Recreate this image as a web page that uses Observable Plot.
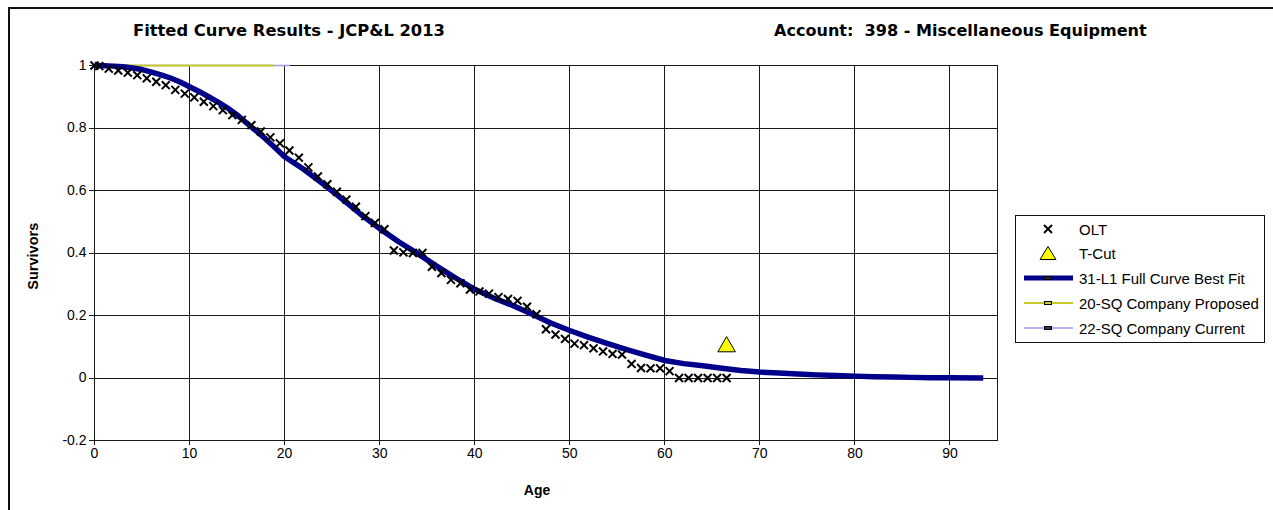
<!DOCTYPE html>
<html><head><meta charset="utf-8">
<script src="https://cdn.jsdelivr.net/npm/d3@7"></script>
<script src="https://cdn.jsdelivr.net/npm/@observablehq/plot@0.6"></script>
<style>
html,body{margin:0;padding:0;background:#fff;}
#wrap{position:relative;width:1273px;height:510px;overflow:hidden;background:#fff;}
#border{position:absolute;left:8px;top:7px;width:1400px;height:600px;border-left:2px solid #111;border-top:2px solid #111;box-sizing:border-box;}
#chart{position:absolute;left:0;top:0;}
.t{position:absolute;white-space:pre;line-height:1;color:#000;}
#legend{position:absolute;left:1015px;top:215px;width:250px;height:128px;border:1px solid #111;box-sizing:border-box;background:#fff;}
g[aria-label="x-grid"], g[aria-label="y-grid"], g[aria-label="frame"], g[aria-label="x-axis tick"], g[aria-label="y-axis tick"]{shape-rendering:crispEdges;}
</style>
</head><body>
<div id="wrap"><div id="border"></div><div id="chart"></div><div id="legend"></div></div>
<script>
// ---- data ----
const titleLeft = "Fitted Curve Results - JCP&L 2013";
const titleRight = "Account:  398 - Miscellaneous Equipment";
const xLabel = "Age";
const yLabel = "Survivors";
const xTicks = [0,10,20,30,40,50,60,70,80,90];
const yTicks = [-0.2,0,0.2,0.4,0.6,0.8,1];

const oltAge = [0,0.5,1.5,2.5,3.5,4.5,5.5,6.5,7.5,8.5,9.5,10.5,11.5,12.5,13.5,14.5,15.5,16.5,17.5,18.5,19.5,20.5,21.5,22.5,23.5,24.5,25.5,26.5,27.5,28.5,29.5,30.5,31.5,32.5,33.5,34.5,35.5,36.5,37.5,38.5,39.5,40.5,41.5,42.5,43.5,44.5,45.5,46.5,47.5,48.5,49.5,50.5,51.5,52.5,53.5,54.5,55.5,56.5,57.5,58.5,59.5,60.5,61.5,62.5,63.5,64.5,65.5,66.5];
const oltSurv = [1.0,0.998,0.99,0.984,0.977,0.969,0.959,0.948,0.937,0.922,0.91,0.898,0.884,0.87,0.857,0.841,0.826,0.809,0.789,0.77,0.751,0.728,0.705,0.674,0.645,0.62,0.596,0.571,0.548,0.518,0.496,0.476,0.408,0.402,0.4,0.4,0.356,0.336,0.314,0.303,0.283,0.277,0.27,0.259,0.253,0.247,0.228,0.204,0.156,0.139,0.125,0.11,0.105,0.095,0.085,0.077,0.075,0.045,0.032,0.031,0.031,0.022,0,0,0,0,0,0];

const fitAge = [0,1,2,3,4,5,6,7,8,9,10,11,12,13,14,15,16,17,18,19,20,22,24,26,28,30,32,34,36,38,40,42,44,46,48,50,52,54,56,58,60,62,64,66,68,70,72,74,76,78,80,82,84,86,88,90,93.5];
const fitSurv = [1.0,0.999,0.998,0.996,0.992,0.987,0.979,0.97,0.96,0.947,0.932,0.917,0.9,0.883,0.864,0.842,0.816,0.791,0.765,0.737,0.708,0.668,0.622,0.574,0.524,0.478,0.436,0.398,0.358,0.32,0.284,0.256,0.232,0.205,0.176,0.152,0.13,0.11,0.091,0.073,0.056,0.046,0.039,0.031,0.024,0.019,0.016,0.013,0.01,0.008,0.006,0.004,0.003,0.002,0.001,0.001,0.0];

const tcutAge = [66.5];
const tcutSurv = [0.1];

const propAge = [0,18.8];   // 20-SQ Company Proposed (visible part)
const propSurv = [1,1];
const currAge = [0,20.5];   // 22-SQ Company Current (visible part)
const currSurv = [1,1];

const legendLabels = ["OLT","T-Cut","31-L1 Full Curve Best Fit","20-SQ Company Proposed","22-SQ Company Current"];

// ---- build tables ----
const olt = oltAge.map((a,i)=>({age:a, s:oltSurv[i]}));
const fit = fitAge.map((a,i)=>({age:a, s:fitSurv[i]}));
const tcut = tcutAge.map((a,i)=>({age:a, s:tcutSurv[i]}));
const prop = propAge.map((a,i)=>({age:a, s:propSurv[i]}));
const curr = currAge.map((a,i)=>({age:a, s:currSurv[i]}));

const NAVY = "#00008b", YEL = "#c8c828", LAV = "#9a9af0", GRID = "#1a1a1a";

const chart = Plot.plot({
  width:1273, height:510,
  marginLeft:94, marginRight:276, marginTop:65, marginBottom:70,
  x:{domain:[0,95]},
  y:{domain:[-0.2,1]},
  style:{fontFamily:"'Liberation Sans', Arial, sans-serif", fontSize:"14px", color:"#000", background:"transparent", overflow:"visible"},
  marks:[
    Plot.gridX(xTicks,{stroke:GRID, strokeOpacity:1, strokeWidth:1}),
    Plot.gridY(yTicks,{stroke:GRID, strokeOpacity:1, strokeWidth:1}),
    Plot.frame({stroke:GRID, strokeWidth:1}),
    Plot.axisX(xTicks,{tickSize:5, tickPadding:3, label:null, tickFormat:d=>String(d), stroke:GRID}),
    Plot.axisY(yTicks,{tickSize:5, tickPadding:3, label:null, tickFormat:d=>String(d), stroke:GRID}),
    Plot.line(curr,{x:"age", y:"s", stroke:LAV, strokeWidth:1.5}),
    Plot.line(prop,{x:"age", y:"s", stroke:YEL, strokeWidth:2}),
    Plot.line(fit,{x:"age", y:"s", stroke:NAVY, strokeWidth:5.5, strokeLinejoin:"round", strokeLinecap:"butt"}),
    Plot.dot(olt,{x:"age", y:"s", symbol:"times", r:3.7, stroke:"#000", strokeWidth:2}),
    Plot.dot(tcut,{x:"age", y:"s", symbol:"triangle", r:6.5, fill:"#ffff00", stroke:"#000", strokeWidth:1})
  ]
});
document.getElementById("chart").appendChild(chart);

// ---- text helpers ----
const wrap = document.getElementById("wrap");
function addText(txt, opts){
  const el = document.createElement("div");
  el.className = "t";
  el.textContent = txt;
  el.style.fontFamily = opts.family;
  el.style.fontWeight = opts.weight || "normal";
  el.style.fontSize = opts.size + "px";
  (opts.parent || wrap).appendChild(el);
  if (opts.width){
    const w = el.getBoundingClientRect().width;
    el.style.fontSize = (opts.size * opts.width / w) + "px";
  }
  const r = el.getBoundingClientRect();
  if (opts.rotate){
    el.style.transformOrigin = "center center";
    el.style.left = (opts.cx - r.width/2) + "px";
    el.style.top = (opts.cy - r.height/2) + "px";
    el.style.transform = "rotate(-90deg)";
  } else {
    const left = opts.left !== undefined ? opts.left : opts.cx - r.width/2;
    el.style.left = left + "px";
    el.style.top = (opts.cy - r.height/2) + "px";
  }
  return el;
}
const TITLEF = "'DejaVu Sans', Verdana, sans-serif";
const ARIAL = "'Liberation Sans', Arial, sans-serif";
addText(titleLeft,{family:TITLEF, weight:"bold", size:14, width:312, left:133, cy:31});
addText(titleRight,{family:TITLEF, weight:"bold", size:14, width:373, left:774, cy:31});
addText(xLabel,{family:ARIAL, weight:"bold", size:14, cx:537, cy:490});
addText(yLabel,{family:ARIAL, weight:"bold", size:14.5, cx:33, cy:256, rotate:true});

// ---- legend ----
const legend = document.getElementById("legend");
const rowsY = [13, 37.5, 62, 87, 112];
const symX = 32;
const svgNS = "http://www.w3.org/2000/svg";
const lsvg = document.createElementNS(svgNS,"svg");
lsvg.setAttribute("width","70"); lsvg.setAttribute("height","126");
lsvg.style.position="absolute"; lsvg.style.left="0px"; lsvg.style.top="0px";
lsvg.innerHTML =
  `<g stroke="#000" stroke-width="2"><line x1="${symX-4}" y1="${rowsY[0]-4}" x2="${symX+4}" y2="${rowsY[0]+4}"/><line x1="${symX-4}" y1="${rowsY[0]+4}" x2="${symX+4}" y2="${rowsY[0]-4}"/></g>`+
  `<path d="M${symX},${rowsY[1]-7} L${symX+8},${rowsY[1]+6} L${symX-8},${rowsY[1]+6} Z" fill="#ffff00" stroke="#000" stroke-width="1"/>`+
  `<line x1="8" x2="57" y1="${rowsY[2]}" y2="${rowsY[2]}" stroke="${NAVY}" stroke-width="5"/>`+
  `<rect x="${symX-3.5}" y="${rowsY[2]-1.5}" width="7" height="3" fill="#223" stroke="#000" stroke-width="1"/>`+
  `<line x1="8" x2="57" y1="${rowsY[3]}" y2="${rowsY[3]}" stroke="${YEL}" stroke-width="2"/>`+
  `<rect x="${symX-3.5}" y="${rowsY[3]-1.5}" width="7" height="3" fill="${YEL}" stroke="#000" stroke-width="1"/>`+
  `<line x1="8" x2="57" y1="${rowsY[4]}" y2="${rowsY[4]}" stroke="${LAV}" stroke-width="1.5"/>`+
  `<rect x="${symX-3.5}" y="${rowsY[4]-1.5}" width="7" height="3" fill="#334" stroke="#000" stroke-width="1"/>`;
legend.appendChild(lsvg);
const probe = addText(legendLabels[3],{family:ARIAL, size:13, width:180, left:0, cy:-100, parent:legend});
const legSize = parseFloat(probe.style.fontSize);
probe.remove();
legendLabels.forEach((lab,i)=>{
  addText(lab,{family:ARIAL, size:legSize, left:63, cy:rowsY[i], parent:legend});
});
</script>
</body></html>
